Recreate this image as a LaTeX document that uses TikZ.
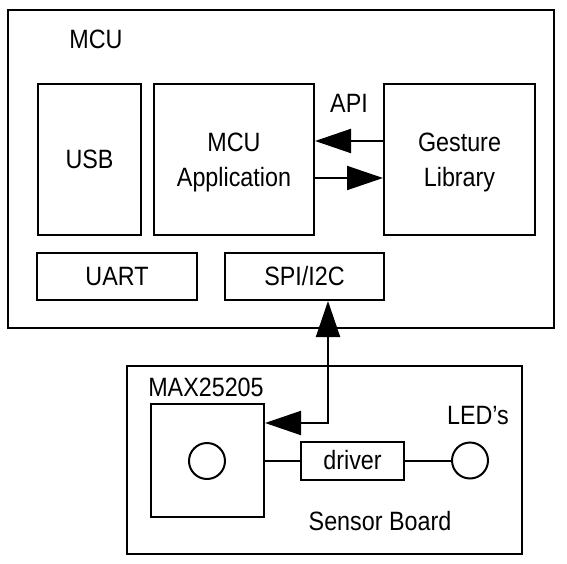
\documentclass[tikz,border=0pt]{standalone}
\usepackage{fontspec}
\setmainfont{Liberation Sans}[FakeStretch=0.88]
\usetikzlibrary{arrows.meta}
\begin{document}
\begin{tikzpicture}[x=1pt,y=-1pt,
  box/.style={draw,line width=2pt,rectangle,inner sep=0pt},
  ring/.style={draw,line width=2pt,circle,inner sep=0pt,minimum size=36pt},
  lbl/.style={inner sep=0pt},
  arr/.style={line width=2pt,-{Triangle[length=36pt,width=24pt]}},
  ln/.style={line width=2pt},
  every node/.style={font=\fontsize{26.5}{35}\selectfont,align=center}]
\useasboundingbox[fill=white] (0,0) rectangle (567,564);
% MCU
\node[box,minimum width=546pt,minimum height=318pt] (mcu) at (281,169) {};
\node[lbl] (mculbl) at (96,39) {MCU};
\node[box,minimum width=103pt,minimum height=151pt] (usb) at (89.5,159.5) {USB};
\node[box,minimum width=160pt,minimum height=151pt] (app) at (234,159.5) {};
\node[lbl] (apptxt) at (234,162) {MCU\\Application};
\node[box,minimum width=151pt,minimum height=151pt] (gest) at (459.5,159.5) {};
\node[lbl] (gesttxt) at (459.5,162) {Gesture\\Library};
\node[lbl] (api) at (349,103) {API};
\node[box,minimum width=160pt,minimum height=47pt] (uart) at (117,276.5) {UART};
\node[box,minimum width=159pt,minimum height=47pt] (spi) at (304.5,276.5) {SPI/I2C};
\coordinate (ya) at (0,141);
\coordinate (yb) at (0,178);
\draw[arr] (gest.west|-ya) -- (app.east|-ya);
\draw[arr] (app.east|-yb) -- (gest.west|-yb);
% Sensor board
\node[box,minimum width=395pt,minimum height=188pt] (sensor) at (324.5,460) {};
\node[lbl] (sblbl) at (380,521) {Sensor Board};
\node[lbl] (maxlbl) at (206,387) {MAX25205};
\node[box,minimum width=113pt,minimum height=113pt] (max) at (207.5,460.5) {};
\node[ring] (sens) at (207,461) {};
\node[box,minimum width=103pt,minimum height=38pt] (drv) at (352.5,460.5) {driver};
\node[ring] (led) at (470,460.5) {};
\node[lbl] (ledlbl) at (478,416) {LED’s};
\draw[ln] (max.east|-drv.west) -- (drv.west);
\draw[ln] (drv.east) -- (led.west);
\coordinate (corner) at (328,423);
\draw[line width=2pt,{Triangle[length=36pt,width=24pt]}-{Triangle[length=36pt,width=24pt]}]
  (max.east|-corner) -- (corner) -- (spi.south-|corner);
\end{tikzpicture}
\end{document}
